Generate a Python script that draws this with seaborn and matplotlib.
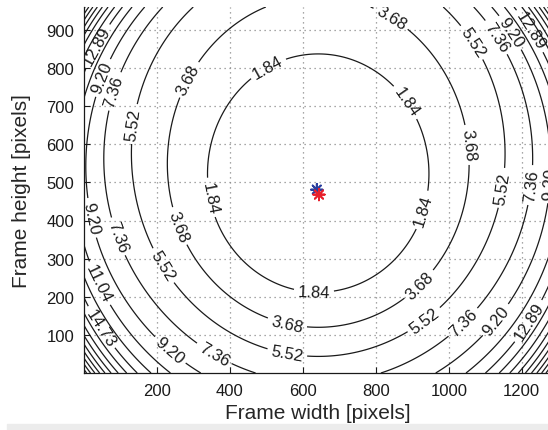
import numpy as np
import matplotlib
matplotlib.use("Agg")
import matplotlib.pyplot as plt
import seaborn as sns

# frame size [pixels]
frame_w = 1280
frame_h = 960

# estimated lens distortion model (normalised coords, focal length in pixels)
focal = 1000.0
dist_center = [642.0, 475.0]
k_radial = [0.0888, -0.264, 0.33]     # k1, k2, k3
p_tangential = [-0.00254, 0.0]        # p1, p2

# principal point estimates (blue / red)
pp_x = [638, 644]
pp_y = [481, 468]
pp_name = ["est_a", "est_b"]
pp_colors = ["#2b3f9e", "#e8202c"]

# iso-distortion levels [pixels]
levels = [1.84077, 3.68154, 5.52231, 7.36308, 9.20385, 11.04462, 12.88539,
          14.72616, 16.56693, 18.40770, 20.24847, 22.08924, 23.93001,
          25.77078, 27.61155, 29.45232, 31.29309, 33.13386, 34.97463]
labelled = levels[:8]

# where the contour labels sit (data coords)
label_spots = [(36, 858), (52, 774), (80, 740), (153, 651), (304, 761),
               (512, 787), (830, 913), (871, 703), (1041, 853), (1115, 871),
               (1159, 887), (1221, 896), (1049, 598), (926, 428), (1142, 486),
               (1214, 494), (1263, 499), (340, 459), (263, 386), (99, 360),
               (22, 407), (216, 281), (44, 236), (52, 123), (236, 60),
               (353, 45), (556, 47), (556, 126), (630, 210), (923, 228),
               (932, 139), (1033, 139), (1115, 150), (1214, 139)]

# distortion magnitude over the frame
xs = np.linspace(0, frame_w, 641)
ys = np.linspace(0, frame_h, 481)
X, Y = np.meshgrid(xs, ys)
xn = (X - dist_center[0]) / focal
yn = (Y - dist_center[1]) / focal
r2 = xn ** 2 + yn ** 2
k1, k2, k3 = k_radial
p1, p2 = p_tangential
radial = k1 * r2 + k2 * r2 ** 2 + k3 * r2 ** 3
dx = xn * radial + 2 * p1 * xn * yn + p2 * (r2 + 2 * xn ** 2)
dy = yn * radial + p1 * (r2 + 2 * yn ** 2) + 2 * p2 * xn * yn
mag = focal * np.sqrt(dx ** 2 + dy ** 2)

sns.set_theme(style="white")
plt.rcParams['font.family'] = ['Liberation Sans', 'DejaVu Sans']

fig = plt.figure(figsize=(5.48, 4.31), dpi=100)
fig.patches.append(plt.Rectangle((7 / 548, 0), 1, 6 / 431,
                                 transform=fig.transFigure, color='#ececec',
                                 zorder=-1))
ax = fig.add_axes([84 / 548, 57 / 431, 467 / 548, 366 / 431])

ax.set_axisbelow(True)
ax.grid(True, linestyle=(0, (1, 3)), color='#8a8a8a', linewidth=0.9)

cs = ax.contour(X, Y, mag, levels=levels, colors='#1a1a1a', linewidths=0.9)
ax.clabel(cs, levels=labelled, fmt='%.2f', fontsize=12, inline=True,
          inline_spacing=4, manual=label_spots)

sns.scatterplot(x=pp_x, y=pp_y, hue=pp_name, palette=pp_colors,
                marker=(8, 2, 0), s=70, linewidth=1.3, legend=False, ax=ax,
                zorder=5)

ax.set_xlim(0, frame_w)
ax.set_ylim(0, frame_h)
ax.set_xticks([200, 400, 600, 800, 1000, 1200])
ax.set_yticks([100, 200, 300, 400, 500, 600, 700, 800, 900])
ax.tick_params(direction='in', length=4, width=0.8, labelsize=12,
               colors='#1a1a1a', left=True, bottom=True, pad=7)
for side in ['top', 'right']:
    ax.spines[side].set_visible(False)
for side in ['left', 'bottom']:
    ax.spines[side].set_color('#1a1a1a')
    ax.spines[side].set_linewidth(0.9)

ax.set_xlabel('Frame width [pixels]', fontsize=15, labelpad=4)
ax.set_ylabel('Frame height [pixels]', fontsize=15, labelpad=11)

fig.savefig('out.png', dpi=100)
